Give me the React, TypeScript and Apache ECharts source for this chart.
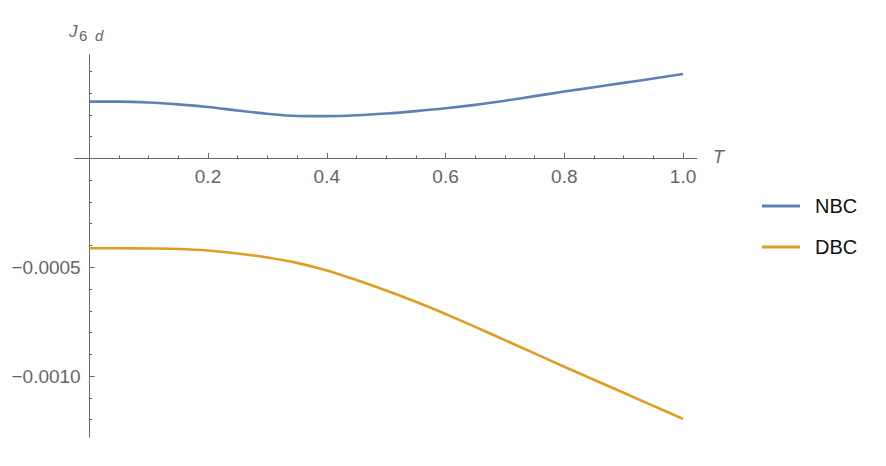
import React, { useEffect, useRef } from "react";
import * as echarts from "echarts";

// Temperature grid (T)
const T_VALUES = [0, 0.05, 0.1, 0.15, 0.2, 0.25, 0.3, 0.35, 0.4, 0.45, 0.5, 0.55, 0.6, 0.65, 0.7, 0.75, 0.8, 0.85, 0.9, 0.95, 1.0];
// J_{6 d} for NBC
const NBC = [2.61e-4, 2.61e-4, 2.57e-4, 2.48e-4, 2.36e-4, 2.2e-4, 2.05e-4, 1.95e-4, 1.94e-4, 1.98e-4, 2.06e-4, 2.17e-4, 2.3e-4, 2.46e-4, 2.65e-4, 2.86e-4, 3.07e-4, 3.27e-4, 3.47e-4, 3.67e-4, 3.88e-4];
// J_{6 d} for DBC
const DBC = [-4.13e-4, -4.13e-4, -4.14e-4, -4.16e-4, -4.23e-4, -4.37e-4, -4.55e-4, -4.8e-4, -5.15e-4, -5.59e-4, -6.07e-4, -6.59e-4, -7.15e-4, -7.74e-4, -8.35e-4, -8.96e-4, -9.57e-4, -1.017e-3, -1.077e-3, -1.137e-3, -1.197e-3];

const X_MAJOR = [0.2, 0.4, 0.6, 0.8, 1.0];
const X_MINOR = [0.05, 0.1, 0.15, 0.25, 0.3, 0.35, 0.45, 0.5, 0.55, 0.65, 0.7, 0.75, 0.85, 0.9, 0.95];
const Y_MAJOR = [-0.0005, -0.001];
const Y_MINOR = [0.0001, 0.0002, 0.0003, 0.0004, -0.0001, -0.0002, -0.0003, -0.0004, -0.0006, -0.0007, -0.0008, -0.0009, -0.0011, -0.0012];

const X_MIN = -0.024;
const X_MAX = 1.023;
const Y_MIN = -0.00128;
const Y_MAX = 0.000475;

const SERIES_NAMES = ["NBC", "DBC"];
const COLORS = ["#5E81B5", "#E19C24"];

const AXIS_COLOR = "#6b6b6b";
const LABEL_COLOR = "#666666";
const FONT = "'Liberation Sans', Arial, Helvetica, sans-serif";

const fmtX = (v: number) => v.toFixed(1);
const fmtY = (v: number) => (v < 0 ? "\u2212" : "") + Math.abs(v).toFixed(4);

export default function App() {
  const ref = useRef<HTMLDivElement>(null);

  useEffect(() => {
    if (!ref.current) return;
    const chart = echarts.init(ref.current, null, { renderer: "svg" });

    const baseX = {
      type: "value" as const,
      min: X_MIN,
      max: X_MAX,
      position: "bottom" as const,
      splitLine: { show: false },
    };
    const baseY = {
      type: "value" as const,
      min: Y_MIN,
      max: Y_MAX,
      position: "left" as const,
      splitLine: { show: false },
    };

    chart.setOption({
      animation: false,
      backgroundColor: "#ffffff",
      grid: { left: 75, top: 55, width: 621.7, height: 382, outerBoundsMode: "none" },
      xAxis: [
        {
          ...baseX,
          axisLine: { show: true, onZero: true, lineStyle: { color: AXIS_COLOR, width: 1 } },
          axisTick: { show: true, inside: true, length: 5.5, customValues: X_MAJOR, lineStyle: { color: AXIS_COLOR } },
          axisLabel: { show: true, customValues: X_MAJOR, formatter: fmtX, color: LABEL_COLOR, fontSize: 19, fontFamily: FONT, margin: -270 },
        },
        {
          ...baseX,
          axisLine: { show: true, onZero: true, lineStyle: { color: AXIS_COLOR, width: 1 } },
          axisTick: { show: true, inside: true, length: 3, customValues: X_MINOR, lineStyle: { color: AXIS_COLOR } },
          axisLabel: { show: false },
        },
      ],
      yAxis: [
        {
          ...baseY,
          axisLine: { show: true, onZero: true, lineStyle: { color: AXIS_COLOR, width: 1 } },
          axisTick: { show: true, inside: true, length: 5.5, customValues: Y_MAJOR, lineStyle: { color: AXIS_COLOR } },
          axisLabel: { show: true, customValues: Y_MAJOR, formatter: fmtY, color: LABEL_COLOR, fontSize: 19, fontFamily: FONT, margin: -5.7 },
        },
        {
          ...baseY,
          axisLine: { show: true, onZero: true, lineStyle: { color: AXIS_COLOR, width: 1 } },
          axisTick: { show: true, inside: true, length: 3, customValues: Y_MINOR, lineStyle: { color: AXIS_COLOR } },
          axisLabel: { show: false },
        },
      ],
      legend: {
        orient: "vertical",
        left: 757,
        top: 190,
        itemWidth: 38,
        itemHeight: 3,
        itemGap: 19,
        icon: "rect",
        data: SERIES_NAMES,
        textStyle: { fontSize: 20, color: "#111111", lineHeight: 22, fontFamily: FONT, padding: [0, 0, 0, 10] },
      },
      series: [
        {
          name: SERIES_NAMES[0],
          type: "line",
          xAxisIndex: 0,
          yAxisIndex: 0,
          data: T_VALUES.map((t, i) => [t, NBC[i]]),
          smooth: 0.3,
          symbol: "none",
          showSymbol: false,
          color: COLORS[0],
          lineStyle: { color: COLORS[0], width: 2.6 },
        },
        {
          name: SERIES_NAMES[1],
          type: "line",
          xAxisIndex: 0,
          yAxisIndex: 0,
          data: T_VALUES.map((t, i) => [t, DBC[i]]),
          smooth: 0.3,
          symbol: "none",
          showSymbol: false,
          color: COLORS[1],
          lineStyle: { color: COLORS[1], width: 2.6 },
        },
      ],
      graphic: [
        {
          type: "text",
          x: 69,
          y: 31,
          style: { text: "J", font: `italic 17px ${FONT}`, fill: LABEL_COLOR, verticalAlign: "middle", align: "left" },
        },
        {
          type: "text",
          x: 79,
          y: 35,
          style: { text: "6", font: `15px ${FONT}`, fill: LABEL_COLOR, verticalAlign: "middle", align: "left" },
        },
        {
          type: "text",
          x: 95,
          y: 35,
          style: { text: "d", font: `italic 15px ${FONT}`, fill: LABEL_COLOR, verticalAlign: "middle", align: "left" },
        },
        {
          type: "text",
          x: 713,
          y: 157,
          style: { text: "T", font: `italic 18px ${FONT}`, fill: LABEL_COLOR, verticalAlign: "middle", align: "left" },
        },
      ],
    });

    return () => chart.dispose();
  }, []);

  return <div ref={ref} style={{ position: "fixed", left: 0, top: 0, width: 886, height: 466 }} />;
}
